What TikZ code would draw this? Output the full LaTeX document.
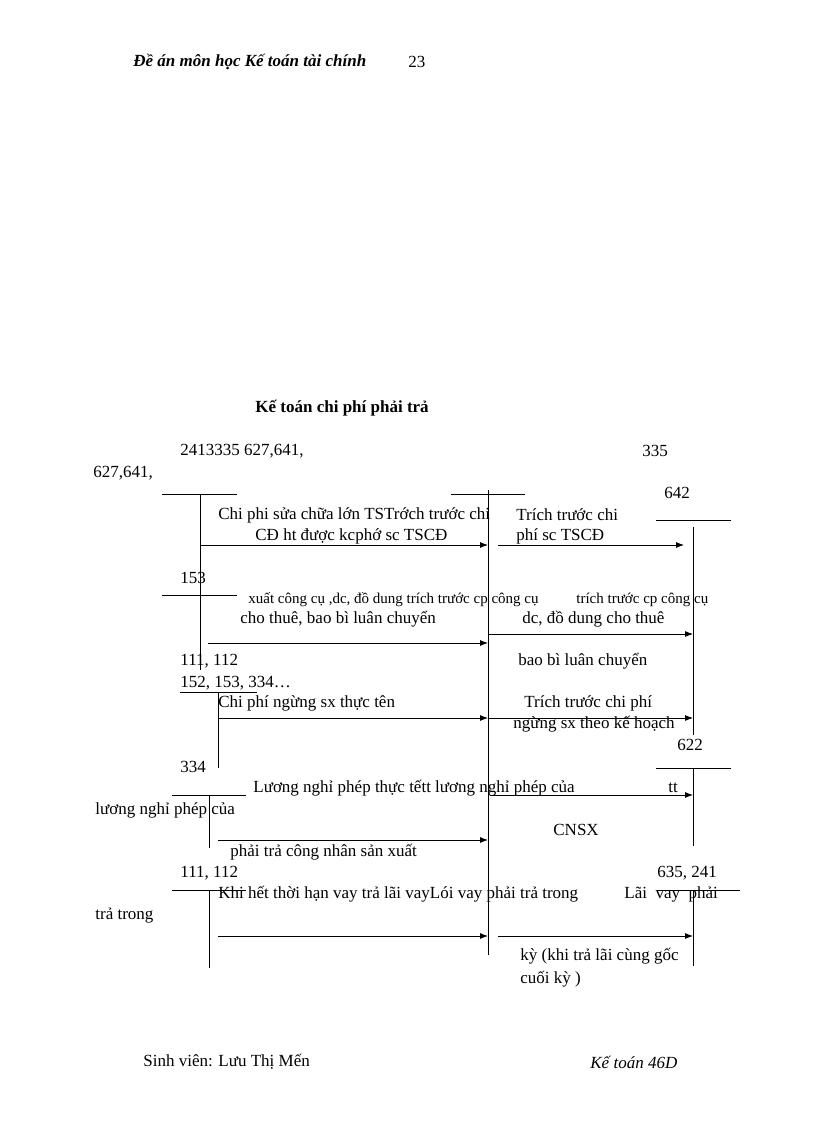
\documentclass[tikz,border=0pt]{standalone}
\usepackage{fontspec}
\setmainfont{Liberation Serif}
\usetikzlibrary{arrows.meta}
\begin{document}
\begin{tikzpicture}[x=1pt,y=-1pt,line width=0.8pt,
 t/.style={anchor=west,inner sep=0pt,font=\fontsize{17}{19}\selectfont},
 ts/.style={anchor=west,inner sep=0pt,font=\fontsize{15}{17}\selectfont},
 ar/.style={-{Latex[length=8pt,width=6pt]}}]
\useasboundingbox (0,0) rectangle (816,1123);
\node[t,font=\fontsize{17}{19}\selectfont\bfseries\itshape] (h1) at (133,62) {Đề án môn học Kế toán tài chính};
\node[t] (h2) at (408,62) {23};
\node[t,font=\fontsize{17}{19}\selectfont\bfseries] (ti) at (255,408) {Kế toán chi phí phải trả};
\node[t] (l1) at (180,451) {2413335 627,641,};
\node[t] (l2) at (642,451) {335};
\node[t] (l3) at (93,473) {627,641,};
% T accounts
\coordinate (a1) at (162,494); \coordinate (a2) at (237,494);
\draw (a1) -- (a2);
\coordinate (av1) at (200,494); \coordinate (av2) at (200,670);
\draw (av1) -- (av2);
\coordinate (c1) at (451,494); \coordinate (c2) at (525,494);
\draw (c1) -- (c2);
\coordinate (cv1) at (488,490); \coordinate (cv2) at (488,955);
\draw (cv1) -- (cv2);
\node[t] (n642) at (664,493) {642};
\coordinate (r1) at (656,520); \coordinate (r2) at (731,520);
\draw (r1) -- (r2);
\coordinate (rv1) at (693,527); \coordinate (rv2) at (693,735);
\draw (rv1) -- (rv2);
% row 1
\node[t] (x1) at (218,515) {Chi phi sửa chữa lớn TSTrớch trước chi};
\node[t] (x2) at (255,536) {CĐ ht được kcphớ sc TSCĐ};
\node[t] (x3) at (516,515) {Trích trước chi};
\node[t] (x4) at (516,536) {phí sc TSCĐ};
\coordinate (p1) at (200,545); \coordinate (p2) at (488,545);
\draw[ar] (p1) -- (p2);
\coordinate (p3) at (498,545); \coordinate (p4) at (684,545);
\draw[ar] (p3) -- (p4);
% row 2
\node[t] (n153) at (180,578) {153};
\coordinate (b1) at (162,595); \coordinate (b2) at (237,595);
\draw (b1) -- (b2);
\node[ts] (y1) at (248,600) {xuất công cụ ,dc, đồ dung trích trước cp công cụ};
\node[ts] (y2) at (576,600) {trích trước cp công cụ};
\node[t] (y3) at (240,619) {cho thuê, bao bì luân chuyển};
\node[t] (y4) at (522,619) {dc, đồ dung cho thuê};
\coordinate (q1) at (208,643); \coordinate (q2) at (488,643);
\draw[ar] (q1) -- (q2);
\coordinate (q3) at (488,634); \coordinate (q4) at (693,634);
\draw[ar] (q3) -- (q4);
\node[t] (y5) at (518,661) {bao bì luân chuyển};
\node[t] (y6) at (180,661) {111, 112};
% row 3
\node[t] (z0) at (180,683) {152, 153, 334…};
\coordinate (d1) at (180,692); \coordinate (d2) at (257,692);
\draw (d1) -- (d2);
\coordinate (dv1) at (218,692); \coordinate (dv2) at (218,768);
\draw (dv1) -- (dv2);
\node[t] (z1) at (218,703) {Chi phí ngừng sx thực tên};
\node[t] (z2) at (524,703) {Trích trước chi phí};
\node[t] (z3) at (513,724) {ngừng sx theo kế hoạch};
\coordinate (s1) at (218,718); \coordinate (s2) at (488,718);
\draw[ar] (s1) -- (s2);
\coordinate (s3) at (488,718); \coordinate (s4) at (693,718);
\draw[ar] (s3) -- (s4);
% row 4
\node[t] (n622) at (677,745) {622};
\coordinate (e1) at (656,768); \coordinate (e2) at (731,768);
\draw (e1) -- (e2);
\coordinate (ev1) at (693,768); \coordinate (ev2) at (693,846);
\draw (ev1) -- (ev2);
\node[t] (n334) at (180,767) {334};
\coordinate (f1) at (172,795); \coordinate (f2) at (246,795);
\draw (f1) -- (f2);
\coordinate (fv1) at (209,795); \coordinate (fv2) at (209,848);
\draw (fv1) -- (fv2);
\node[t] (w1) at (253,788) {Lương nghỉ phép thực tếtt lương nghỉ phép của};
\node[t] (w2) at (668,788) {tt};
\coordinate (u3) at (490,795); \coordinate (u4) at (693,795);
\draw[ar] (u3) -- (u4);
\node[t] (w3) at (95,810) {lương nghỉ phép của};
\node[t] (w4) at (553,830) {CNSX};
\coordinate (u1) at (218,840); \coordinate (u2) at (488,840);
\draw[ar] (u1) -- (u2);
\node[t] (w5) at (230,852) {phải trả công nhân sản xuất};
% row 5
\node[t] (n111) at (180,873) {111, 112};
\node[t] (n635) at (657,873) {635, 241};
\coordinate (g1) at (172,890); \coordinate (g2) at (246,890);
\draw (g1) -- (g2);
\coordinate (gv1) at (209,890); \coordinate (gv2) at (209,968);
\draw (gv1) -- (gv2);
\coordinate (k1) at (657,890); \coordinate (k2) at (740,890);
\draw (k1) -- (k2);
\coordinate (kv1) at (693,890); \coordinate (kv2) at (693,966);
\draw (kv1) -- (kv2);
\node[t] (v1) at (218,894) {Khi hết thời hạn vay trả lãi vayLói vay phải trả trong};
\node[t] (v2) at (624,894) {Lãi \ vay \ phải};
\node[t] (v3) at (95,916) {trả trong};
\coordinate (m1) at (218,936); \coordinate (m2) at (488,936);
\draw[ar] (m1) -- (m2);
\coordinate (m3) at (498,936); \coordinate (m4) at (693,936);
\draw[ar] (m3) -- (m4);
\node[t] (v4) at (520,956) {kỳ (khi trả lãi cùng gốc};
\node[t] (v5) at (520,979) {cuối kỳ )};
% footer
\node[t] (f01) at (143,1062) {Sinh viên: Lưu Thị Mến};
\node[t,font=\fontsize{17}{19}\selectfont\itshape] (f02) at (590,1062) {Kế toán 46D};
\end{tikzpicture}
\end{document}
